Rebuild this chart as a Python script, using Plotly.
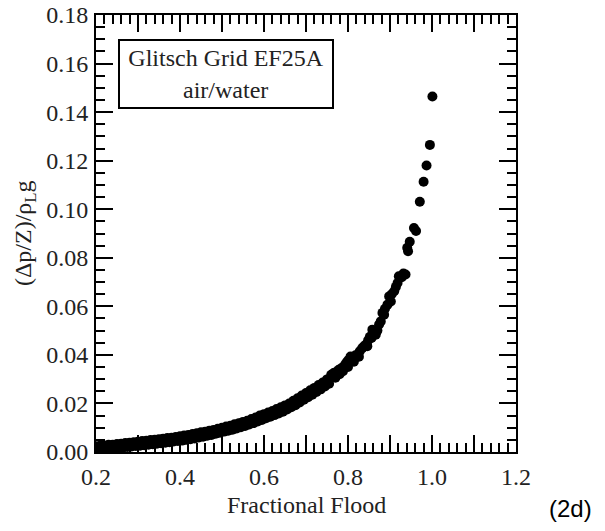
import plotly.graph_objects as go

# run 1 - low/medium flood region
flood_a = [0.200, 0.210, 0.220, 0.230, 0.240, 0.250, 0.260, 0.270, 0.280, 0.290,
           0.300, 0.310, 0.320, 0.330, 0.340, 0.350, 0.360, 0.370, 0.380, 0.390,
           0.400, 0.410, 0.420, 0.430, 0.440, 0.450, 0.460, 0.470, 0.480, 0.490,
           0.500, 0.510, 0.520, 0.530, 0.540, 0.550, 0.560, 0.570, 0.580, 0.590,
           0.600, 0.610, 0.620, 0.630, 0.640, 0.650, 0.660, 0.670, 0.680, 0.690,
           0.700, 0.710, 0.720, 0.730, 0.740, 0.750]
dp_a = [0.0024, 0.0026, 0.0027, 0.0030, 0.0030, 0.0033, 0.0034, 0.0037, 0.0038, 0.0040,
        0.0042, 0.0045, 0.0046, 0.0049, 0.0050, 0.0053, 0.0055, 0.0058, 0.0059, 0.0062,
        0.0065, 0.0068, 0.0070, 0.0074, 0.0077, 0.0081, 0.0083, 0.0088, 0.0091, 0.0096,
        0.0100, 0.0105, 0.0108, 0.0114, 0.0118, 0.0124, 0.0129, 0.0136, 0.0142, 0.0150,
        0.0156, 0.0163, 0.0169, 0.0177, 0.0184, 0.0192, 0.0200, 0.0211, 0.0221, 0.0233,
        0.0243, 0.0254, 0.0264, 0.0276, 0.0286, 0.0299]

# run 2 - same region, slightly lower readings
flood_b = [0.205, 0.215, 0.225, 0.235, 0.245, 0.255, 0.265, 0.275, 0.285, 0.295,
           0.305, 0.315, 0.325, 0.335, 0.345, 0.355, 0.365, 0.375, 0.385, 0.395,
           0.405, 0.415, 0.425, 0.435, 0.445, 0.455, 0.465, 0.475, 0.485, 0.495,
           0.505, 0.515, 0.525, 0.535, 0.545, 0.555, 0.565, 0.575, 0.585, 0.595,
           0.605, 0.615, 0.625, 0.635, 0.645, 0.655, 0.665, 0.675, 0.685, 0.695,
           0.705, 0.715, 0.725, 0.735, 0.745, 0.755]
dp_b = [0.0010, 0.0012, 0.0013, 0.0014, 0.0016, 0.0018, 0.0019, 0.0021, 0.0023, 0.0025,
        0.0026, 0.0028, 0.0030, 0.0032, 0.0034, 0.0036, 0.0038, 0.0040, 0.0043, 0.0045,
        0.0047, 0.0050, 0.0053, 0.0056, 0.0060, 0.0063, 0.0067, 0.0070, 0.0075, 0.0079,
        0.0084, 0.0088, 0.0092, 0.0097, 0.0102, 0.0107, 0.0113, 0.0119, 0.0126, 0.0132,
        0.0139, 0.0145, 0.0152, 0.0159, 0.0166, 0.0175, 0.0184, 0.0193, 0.0204, 0.0215,
        0.0226, 0.0236, 0.0247, 0.0258, 0.0270, 0.0281]

# high flood region, read point by point
flood_c = [0.760, 0.766, 0.772, 0.778, 0.784, 0.790, 0.794, 0.798, 0.802, 0.806,
           0.812, 0.818, 0.822, 0.828, 0.834, 0.838, 0.842, 0.848, 0.852, 0.858,
           0.862, 0.866, 0.870, 0.874, 0.878, 0.882, 0.888, 0.894, 0.898, 0.904,
           0.910, 0.914, 0.918, 0.921, 0.928, 0.932, 0.937, 0.941, 0.943, 0.947,
           0.957, 0.962, 0.971, 0.980, 0.987, 0.995, 1.001,
           0.770, 0.780, 0.788, 0.800, 0.814, 0.826, 0.846, 0.856, 0.886, 0.902]
dp_c = [0.0318, 0.0325, 0.0330, 0.0339, 0.0345, 0.0352, 0.0362, 0.0373, 0.0380, 0.0393,
        0.0390, 0.0398, 0.0400, 0.0415, 0.0428, 0.0435, 0.0442, 0.0460, 0.0475, 0.0504,
        0.0495, 0.0483, 0.0500, 0.0525, 0.0538, 0.0573, 0.0590, 0.0607, 0.0641, 0.0650,
        0.0662, 0.0680, 0.0696, 0.0724, 0.0720, 0.0735, 0.0731, 0.0841, 0.0827, 0.0866,
        0.0923, 0.0910, 0.1031, 0.1113, 0.1180, 0.1265, 0.1464,
        0.0306, 0.0320, 0.0333, 0.0350, 0.0372, 0.0392, 0.0436, 0.0470, 0.0565, 0.0620]

flood = flood_a + flood_b + flood_c
dp = dp_a + dp_b + dp_c

x_ticks = [0.2, 0.3, 0.4, 0.5, 0.6, 0.7, 0.8, 0.9, 1.0, 1.1, 1.2]
x_labels = ['0.2', '', '0.4', '', '0.6', '', '0.8', '', '1.0', '', '1.2']

serif = 'Liberation Serif'

fig = go.Figure()
fig.add_trace(go.Scatter(
    x=flood, y=dp, mode='markers',
    marker=dict(color='black', size=10),
    showlegend=False,
))

axis_common = dict(
    showgrid=False, zeroline=False, automargin=False,
    showline=True, linecolor='black', linewidth=2,
    mirror='allticks', ticks='inside', ticklen=17, tickwidth=2, tickcolor='black',
    tickfont=dict(family=serif, size=24, color='#222'),
    ticklabeloverflow='allow',
)

fig.update_xaxes(
    range=[0.2, 1.2], tickvals=x_ticks, ticktext=x_labels,
    minor=dict(dtick=0.02, tick0=0.2, ticks='inside', ticklen=9, tickwidth=2, tickcolor='black'),
    ticklabelstandoff=2,
    **axis_common,
)
fig.update_yaxes(
    range=[0, 0.18], dtick=0.02, tickformat='.2f',
    minor=dict(dtick=0.005, tick0=0, ticks='inside', ticklen=9, tickwidth=2, tickcolor='black'),
    ticklabelstandoff=1,
    **axis_common,
)

# legend-like box in the top left corner
fig.add_annotation(
    text='Glitsch Grid EF25A<br>air/water',
    xref='paper', yref='paper', x=0.3095, y=0.865,
    xanchor='center', yanchor='middle', showarrow=False,
    font=dict(family=serif, size=24, color='#222'),
    bordercolor='black', borderwidth=2, borderpad=0, bgcolor='white',
    width=212, height=66,
)
fig.add_annotation(
    text='Fractional Flood', xref='paper', yref='paper', x=0.5, y=-0.121,
    xanchor='center', yanchor='middle', showarrow=False,
    font=dict(family=serif, size=24, color='#222'),
)
fig.add_annotation(
    text='(Δp/Z)/ρ<sub>L</sub>g', xref='paper', yref='paper', x=-0.17, y=0.5,
    xanchor='center', yanchor='middle', showarrow=False, textangle=-90,
    font=dict(family=serif, size=24, color='#222'),
)
fig.add_annotation(
    text='(2d)', xref='paper', yref='paper', x=1.13, y=-0.13,
    xanchor='center', yanchor='middle', showarrow=False,
    font=dict(family='Liberation Sans', size=24, color='black'),
)

fig.update_layout(
    width=605, height=531,
    margin=dict(l=96, r=89, t=15, b=79),
    plot_bgcolor='white', paper_bgcolor='white',
)

# drop the default 8px page margin so the figure fills the window exactly
fig.write_html("out.html", config={'displayModeBar': False},
               post_script="document.body.style.margin='0';")
